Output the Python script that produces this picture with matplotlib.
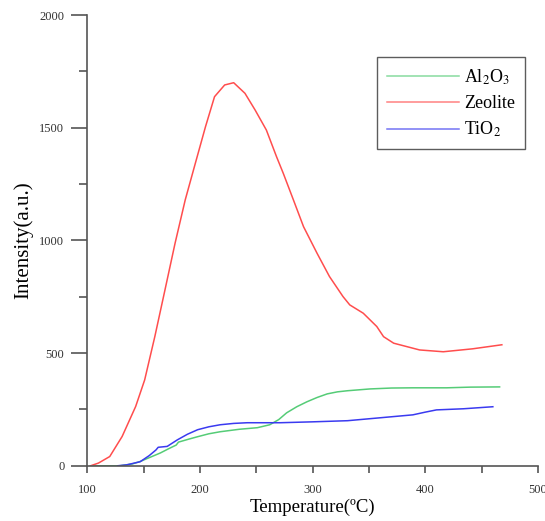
import matplotlib.pyplot as plt
from matplotlib.ticker import MultipleLocator

plt.rcParams['font.family'] = ['Liberation Serif', 'DejaVu Serif']
plt.rcParams['mathtext.fontset'] = 'stix'

# Zeolite
t_zeo = [103, 110, 120, 131, 143, 151, 160, 169, 178, 187, 196, 205, 213, 222, 230,
         240, 249, 259, 268, 274, 283, 292, 304, 315, 327, 333, 345, 357, 363, 372,
         395, 416, 442, 468]
i_zeo = [0, 12, 41, 130, 263, 381, 573, 780, 988, 1180, 1343, 1505, 1638, 1690, 1700,
         1653, 1579, 1490, 1372, 1298, 1180, 1061, 943, 840, 751, 714, 677, 618, 573, 544,
         514, 506, 519, 537]

# Al2O3
t_al = [103, 129, 140, 147, 156, 165, 172, 179, 181, 190, 198, 208, 218, 235, 251,
        262, 270, 277, 286, 295, 304, 313, 322, 331, 351, 370, 389, 419, 440, 466]
i_al = [0, 0, 8, 19, 38, 57, 75, 92, 105, 118, 129, 142, 151, 162, 169,
        182, 205, 235, 262, 284, 303, 319, 328, 333, 341, 345, 346, 346, 349, 350]

# TiO2
t_ti = [127, 135, 147, 155, 161, 163, 171, 180, 189, 198, 208, 218, 230, 242, 271,
        300, 331, 360, 389, 400, 410, 434, 460]
i_ti = [0, 4, 18, 45, 70, 82, 86, 115, 140, 160, 173, 182, 188, 191, 191,
        195, 200, 213, 226, 238, 248, 253, 262]

fig = plt.figure(figsize=(5.45, 5.21), dpi=100)
ax = fig.add_axes([0.160, 0.106, 0.827, 0.865])

ax.plot(t_al, i_al, color='#55cc77', lw=1.1, label=r'Al$_2$O$_3$')
ax.plot(t_zeo, i_zeo, color='#ff4d4d', lw=1.1, label='Zeolite')
ax.plot(t_ti, i_ti, color='#3a3af0', lw=1.1, label=r'TiO$_2$')

ax.set_xlim(100, 500)
ax.set_ylim(0, 2000)
ax.xaxis.set_major_locator(MultipleLocator(100))
ax.xaxis.set_minor_locator(MultipleLocator(50))
ax.yaxis.set_major_locator(MultipleLocator(500))
ax.yaxis.set_minor_locator(MultipleLocator(250))

for side in ['top', 'right']:
    ax.spines[side].set_visible(False)
for side in ['left', 'bottom']:
    ax.spines[side].set_color('#555555')
    ax.spines[side].set_linewidth(1.2)

ax.tick_params(axis='x', which='both', direction='out', length=5, width=1.2,
               color='#555555', labelsize=9, labelcolor='#333333', pad=8)
ax.tick_params(axis='y', which='major', direction='out', length=11.5, width=1.2,
               color='#555555', labelsize=9, labelcolor='#333333', pad=5)
ax.tick_params(axis='y', which='minor', direction='out', length=6, width=1.2,
               color='#555555')

ax.set_xlabel('Temperature(ºC)', fontsize=13.5, labelpad=2)
ax.set_ylabel('Intensity(a.u.)', fontsize=15, labelpad=4)

leg = ax.legend(loc='upper right', bbox_to_anchor=(0.972, 0.906), fontsize=13,
                frameon=True, fancybox=False, handlelength=4.0, borderpad=0.55,
                labelspacing=0.45, handletextpad=0.3, borderaxespad=0)
leg.get_frame().set_edgecolor('#333333')
leg.get_frame().set_linewidth(1.0)
for line in leg.get_lines():
    line.set_alpha(0.7)

fig.savefig('out.png', dpi=100)
